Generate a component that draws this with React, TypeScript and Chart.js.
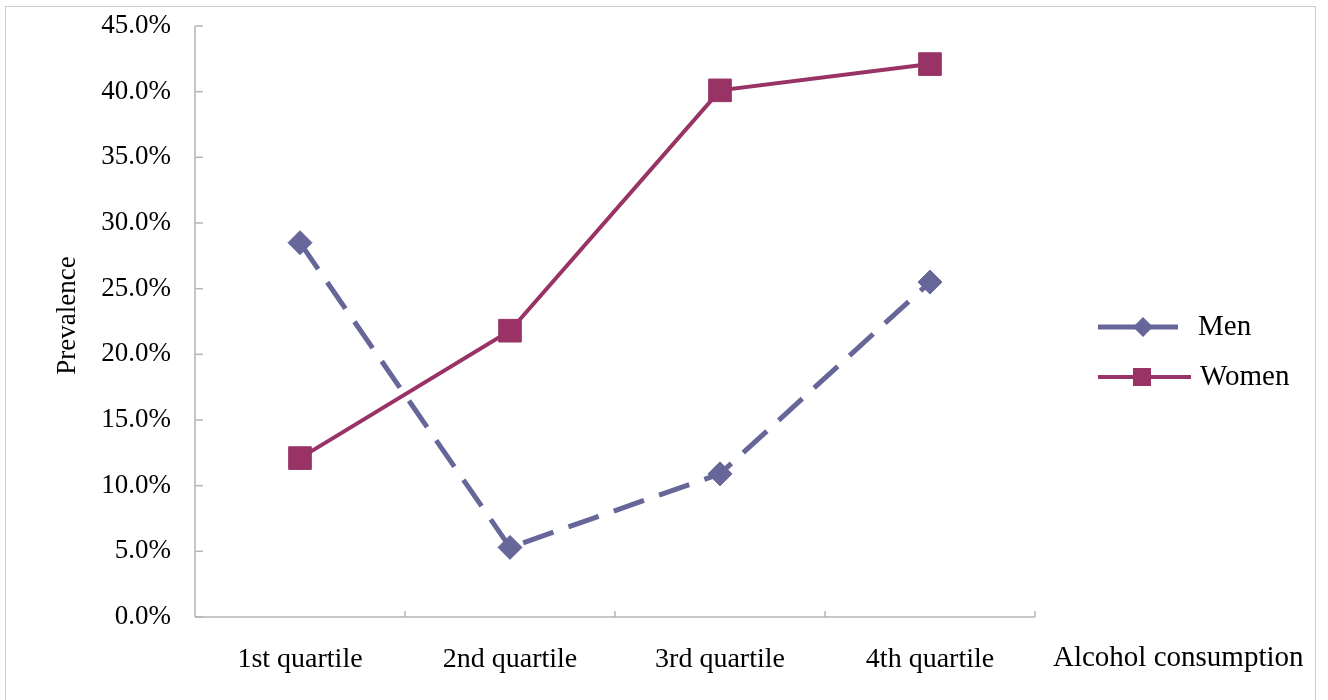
import React, { useEffect, useRef } from "react";
import Chart from "chart.js/auto";

const categories = ["1st quartile", "2nd quartile", "3rd quartile", "4th quartile"];
const menValues = [28.5, 5.3, 10.9, 25.5];
const womenValues = [12.1, 21.8, 40.1, 42.1];
const seriesNames = ["Men", "Women"];
const yMin = 0;
const yMax = 45;
const yStep = 5;
const xAxisTitle = "Alcohol consumption";
const yAxisTitle = "Prevalence";

const MEN_COLOR = "#666699";
const WOMEN_COLOR = "#993366";
const AXIS_COLOR = "#b4b4b4";
const FONT = "Liberation Serif";

export default function App() {
  const canvasRef = useRef<HTMLCanvasElement | null>(null);

  useEffect(() => {
    if (!canvasRef.current) return;

    const decorPlugin = {
      id: "decor",
      beforeDatasetsDraw(chart: any) {
        const { ctx, chartArea } = chart;
        const x = chart.scales.x;
        const y = chart.scales.y;
        ctx.save();
        ctx.strokeStyle = AXIS_COLOR;
        ctx.lineWidth = 1.5;
        ctx.beginPath();
        ctx.moveTo(chartArea.left, chartArea.top);
        ctx.lineTo(chartArea.left, chartArea.bottom);
        ctx.stroke();
        y.ticks.forEach((t: any) => {
          const py = y.getPixelForValue(t.value);
          ctx.beginPath();
          ctx.moveTo(chartArea.left, py);
          ctx.lineTo(chartArea.left + 8, py);
          ctx.stroke();
        });
        ctx.beginPath();
        ctx.moveTo(chartArea.left, chartArea.bottom);
        ctx.lineTo(chartArea.right, chartArea.bottom);
        ctx.stroke();
        const n = categories.length;
        for (let i = 1; i <= n; i++) {
          let px: number;
          if (i === n) px = chartArea.right;
          else px = (x.getPixelForValue(i - 1) + x.getPixelForValue(i)) / 2;
          ctx.beginPath();
          ctx.moveTo(px, chartArea.bottom);
          ctx.lineTo(px, chartArea.bottom - 6);
          ctx.stroke();
        }
        ctx.restore();
      },
      afterDraw(chart: any) {
        const { ctx, chartArea } = chart;
        ctx.save();
        ctx.fillStyle = "#000";
        ctx.font = `27px "${FONT}"`;
        ctx.save();
        ctx.translate(68, (chartArea.top + chartArea.bottom) / 2 - 6);
        ctx.rotate(-Math.PI / 2);
        ctx.textAlign = "center";
        ctx.textBaseline = "middle";
        ctx.fillText(yAxisTitle, 0, 0);
        ctx.restore();
        ctx.font = `29px "${FONT}"`;
        ctx.textAlign = "left";
        ctx.textBaseline = "middle";
        ctx.fillText(xAxisTitle, 1053, 658);

        const items = [
          { name: seriesNames[0], color: MEN_COLOR, width: 5, style: "diamond", y: 327 },
          { name: seriesNames[1], color: WOMEN_COLOR, width: 4, style: "square", y: 377 },
        ];
        ctx.font = `29px "${FONT}"`;
        items.forEach((it) => {
          ctx.strokeStyle = it.color;
          ctx.fillStyle = it.color;
          ctx.lineWidth = it.width;
          ctx.beginPath();
          ctx.moveTo(1098, it.y);
          ctx.lineTo(it.style === "diamond" ? 1178 : 1191, it.y);
          ctx.stroke();
          const cx = it.style === "diamond" ? 1143 : 1142;
          ctx.beginPath();
          if (it.style === "diamond") {
            const r = 10;
            ctx.moveTo(cx, it.y - r);
            ctx.lineTo(cx + r, it.y);
            ctx.lineTo(cx, it.y + r);
            ctx.lineTo(cx - r, it.y);
            ctx.closePath();
          } else {
            ctx.rect(cx - 9, it.y - 9, 18, 18);
          }
          ctx.fill();
          ctx.fillStyle = "#000";
          ctx.textAlign = "left";
          ctx.textBaseline = "middle";
          ctx.fillText(it.name, it.style === "diamond" ? 1198 : 1200, it.y);
        });
        ctx.restore();
      },
    };

    const chart = new Chart(canvasRef.current, {
      type: "line",
      data: {
        labels: categories,
        datasets: [
          {
            label: seriesNames[0],
            data: menValues,
            borderColor: MEN_COLOR,
            backgroundColor: MEN_COLOR,
            borderWidth: 5,
            borderDash: [32, 16],
            pointStyle: "rectRot",
            pointRadius: 12,
            pointBorderWidth: 1,
            tension: 0,
            fill: false,
            clip: false as any,
          },
          {
            label: seriesNames[1],
            data: womenValues,
            borderColor: WOMEN_COLOR,
            backgroundColor: WOMEN_COLOR,
            borderWidth: 4,
            pointStyle: "rect",
            pointRadius: 16,
            pointBorderWidth: 1,
            tension: 0,
            fill: false,
            clip: false as any,
          },
        ],
      },
      options: {
        animation: false,
        responsive: true,
        maintainAspectRatio: false,
        layout: { padding: { left: 0, top: 26, right: 293, bottom: 0 } },
        plugins: {
          legend: { display: false },
          tooltip: { enabled: false },
        },
        scales: {
          x: {
            type: "category",
            offset: true,
            grid: { display: false, drawTicks: false },
            border: { display: false },
            ticks: {
              color: "#000",
              font: { family: FONT, size: 28 },
              padding: 26,
              maxRotation: 0,
            },
            afterFit(scale: any) {
              scale.height = 83;
              scale.paddingLeft = 0;
              scale.paddingRight = 0;
            },
          },
          y: {
            min: yMin,
            max: yMax,
            grid: { display: false, drawTicks: false },
            border: { display: false },
            ticks: {
              stepSize: yStep,
              color: "#000",
              font: { family: FONT, size: 27 },
              padding: 24,
              callback: (v: any) => Number(v).toFixed(1) + "%",
            },
            afterFit(scale: any) {
              scale.width = 195;
              scale.paddingTop = 0;
              scale.paddingBottom = 0;
            },
          },
        },
      },
      plugins: [decorPlugin],
    });

    return () => chart.destroy();
  }, []);

  return (
    <div style={{ position: "fixed", left: 0, top: 0, width: 1328, height: 700, background: "#fff" }}>
      <div
        style={{
          position: "absolute",
          left: 5,
          top: 6,
          width: 1311,
          height: 700,
          border: "1.5px solid #cccccc",
          boxSizing: "border-box",
        }}
      />
      <div style={{ position: "absolute", left: 0, top: 0, width: 1328, height: 700 }}>
        <canvas ref={canvasRef} />
      </div>
    </div>
  );
}
